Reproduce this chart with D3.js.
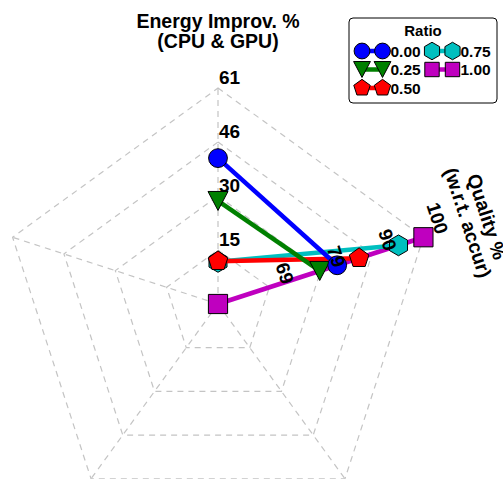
<!DOCTYPE html>
<html>
<head>
<meta charset="utf-8">
<script src="https://cdn.jsdelivr.net/npm/d3@7"></script>
<style>
  html, body { margin: 0; padding: 0; background: #fff; }
  svg { display: block; }
  text { font-family: "Liberation Sans", Arial, Helvetica, sans-serif; font-weight: bold; fill: #000; }
</style>
</head>
<body>
<div id="chart"></div>
<script>
// ---------------- data ----------------
const ratios = ["0.00", "0.25", "0.50", "0.75", "1.00"];
const energyValues = [41.2, 29.1, 12.1, 11.9, 0];     // Energy Improv. % (CPU & GPU)
const qualityValues = [82.7, 79.2, 87.1, 95.0, 100];  // Quality % (w.r.t. accur)
const energyDomain = [0, 61];
const qualityDomain = [58.8, 100];
const energyTicks = ["15", "30", "46", "61"];
const qualityTicks = ["69", "79", "90", "100"];
const axisTitles = [["Energy Improv. %", "(CPU & GPU)"], ["Quality %", "(w.r.t. accur)"]];
const seriesColors = ["#0000ff", "#008000", "#ff0000", "#00bfbf", "#bf00bf"];
const seriesShapes = ["circle", "triangleDown", "pentagon", "hexagon", "square"];

// ---------------- layout ----------------
const W = 503, H = 479;
const cx = 218, cy = 304, R = 216;
const nAxes = 5;
const levels = [0.25, 0.5, 0.75, 1];

const svg = d3.select("#chart").append("svg").attr("width", W).attr("height", H);
const g = svg.append("g").attr("transform", `translate(${cx},${cy})`);

const angle = d3.scaleLinear().domain([0, nAxes]).range([0, 2 * Math.PI]);
const rEnergy = d3.scaleLinear().domain(energyDomain).range([0, R]);
const rQuality = d3.scaleLinear().domain(qualityDomain).range([0, R]);

// ---------------- grid ----------------
const gridStyle = s => s.attr("fill", "none").attr("stroke", "#c4c4c4")
  .attr("stroke-width", 1.2).attr("stroke-dasharray", "6,5");

levels.forEach(l => {
  g.append("path")
    .attr("d", d3.lineRadial().angle(d => angle(d)).radius(R * l).curve(d3.curveLinearClosed)(d3.range(nAxes)))
    .call(gridStyle);
});
d3.range(nAxes).forEach(k => {
  const p = d3.pointRadial(angle(k), R);
  g.append("line").attr("x1", 0).attr("y1", 0).attr("x2", p[0]).attr("y2", p[1]).call(gridStyle);
});

// ---------------- markers ----------------
function polygonPath(n, r, rot) {
  const p = d3.path();
  for (let i = 0; i < n; i++) {
    const a = rot + i * 2 * Math.PI / n;
    const x = r * Math.sin(a), y = -r * Math.cos(a);
    if (i === 0) p.moveTo(x, y); else p.lineTo(x, y);
  }
  p.closePath();
  return p.toString();
}
function markerPath(shape, s) {
  const p = d3.path();
  switch (shape) {
    case "circle": p.arc(0, 0, 9.4 * s, 0, 2 * Math.PI); p.closePath(); return p.toString();
    case "square": { const h = 9.6 * s; p.rect(-h, -h, 2 * h, 2 * h); return p.toString(); }
    case "triangleDown": { const w = 10 * s, h = 9.5 * s;
      p.moveTo(-w, -h); p.lineTo(w, -h); p.lineTo(0, h); p.closePath(); return p.toString(); }
    case "pentagon": return polygonPath(5, 10.3 * s, 0);
    case "hexagon": return polygonPath(6, 10.4 * s, 0);
  }
}

// ---------------- series ----------------
const line = d3.lineRadial().angle(d => d.a).radius(d => d.r);
const order = d3.range(ratios.length).reverse();
order.forEach(i => {
  const pts = [
    { a: angle(0), r: rEnergy(energyValues[i]) },
    { a: angle(1), r: rQuality(qualityValues[i]) }
  ];
  g.append("path").attr("d", line(pts)).attr("fill", "none")
    .attr("stroke", seriesColors[i]).attr("stroke-width", 4.5);
  pts.forEach(pt => {
    const [x, y] = d3.pointRadial(pt.a, pt.r);
    g.append("path").attr("d", markerPath(seriesShapes[i], 1))
      .attr("transform", `translate(${x},${y})`)
      .attr("fill", seriesColors[i]).attr("stroke", "#000").attr("stroke-width", 1);
  });
});

// ---------------- tick labels ----------------
levels.forEach((l, j) => {
  // energy axis (top)
  const pe = d3.pointRadial(angle(0), R * l);
  g.append("text").attr("x", pe[0] + 1).attr("y", pe[1] - 4)
    .attr("text-anchor", "start").attr("font-size", 19).text(energyTicks[j]);
  // quality axis
  const pq = d3.pointRadial(angle(1), R * l);
  const rot = angle(1) * 180 / Math.PI;
  g.append("text")
    .attr("transform", `translate(${pq[0]},${pq[1]}) rotate(${rot})`)
    .attr("x", 2).attr("y", -12.5)
    .attr("text-anchor", "end").attr("font-size", 19).text(qualityTicks[j]);
});

// ---------------- axis titles ----------------
axisTitles.forEach((lines, k) => {
  const p = d3.pointRadial(angle(k), 276);
  const rot = angle(k) * 180 / Math.PI;
  const t = g.append("g").attr("transform", `translate(${p[0]},${p[1]}) rotate(${rot})`);
  lines.forEach((s, m) => {
    t.append("text").attr("x", 0).attr("y", m * 20).attr("text-anchor", "middle")
      .attr("font-size", 19.5).text(s);
  });
});

// ---------------- legend ----------------
const leg = svg.append("g");
leg.append("rect").attr("x", 349).attr("y", 18).attr("width", 148).attr("height", 85)
  .attr("rx", 4).attr("fill", "#fff").attr("stroke", "#000").attr("stroke-width", 1);
leg.append("text").attr("x", 423).attr("y", 36).attr("text-anchor", "middle")
  .attr("font-size", 15).text("Ratio");
const colX = [362, 432];
const rowY = [51, 69.5, 88];
ratios.forEach((r, i) => {
  const col = i < 3 ? 0 : 1;
  const row = i < 3 ? i : i - 3;
  const x0 = colX[col], x1 = x0 + 20.5, y = rowY[row];
  leg.append("line").attr("x1", x0).attr("x2", x1).attr("y1", y).attr("y2", y)
    .attr("stroke", seriesColors[i]).attr("stroke-width", 4.5);
  [x0, x1].forEach(x => {
    leg.append("path").attr("d", markerPath(seriesShapes[i], seriesShapes[i] === "square" ? 0.75 : 0.84))
      .attr("transform", `translate(${x},${y})`)
      .attr("fill", seriesColors[i]).attr("stroke", "#000").attr("stroke-width", 1);
  });
  leg.append("text").attr("x", x1 + 8).attr("y", y + 5.5)
    .attr("font-size", 15.5).text(r);
});
</script>
</body>
</html>
